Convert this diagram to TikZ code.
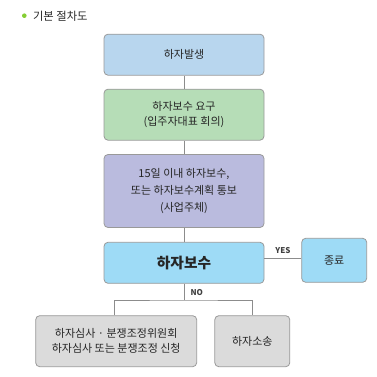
\documentclass[tikz,border=0pt]{standalone}
\usepackage{fontspec}
\setmainfont{Noto Sans CJK KR}
\begin{document}
\begin{tikzpicture}[x=1pt,y=-1pt,
  box/.style={draw=black!40, line width=0.8pt, rounded corners=4pt, inner sep=0pt, align=center, text=black!85, font=\fontsize{11}{15}\selectfont},
  conn/.style={draw=black!45, line width=0.8pt},
  lab/.style={font=\fontsize{8}{9}\selectfont\bfseries, text=black!75}]
\useasboundingbox (0,0) rectangle (376,377);
\fill[green!60!black!60!yellow!80] (24.3,15.7) circle (2.3pt);
\node[anchor=west, font=\fontsize{11.3}{13}\selectfont, text=black!85] (title) at (29.5,16) {기본 절차도};
\node[box, fill={rgb,255:red,184;green,214;blue,238}, minimum width=160pt, minimum height=41pt] (b1) at (184,54.7) {하자발생};
\node[box, fill={rgb,255:red,182;green,221;blue,183}, minimum width=160pt, minimum height=51pt] (b2) at (184,114.7) {하자보수 요구\\(입주자대표 회의)};
\node[box, fill={rgb,255:red,186;green,187;blue,222}, minimum width=160pt, minimum height=73pt, font=\fontsize{11}{17}\selectfont] (b3) at (184,191) {15일 이내 하자보수,\\또는 하자보수계획 통보\\(사업주체)};
\node[box, fill={rgb,255:red,158;green,219;blue,246}, minimum width=160pt, minimum height=41pt, font=\fontsize{14.7}{16}\selectfont\bfseries] (b4) at (184,262.8) {하자보수};
\node[box, fill={rgb,255:red,158;green,219;blue,246}, minimum width=65pt, minimum height=44pt] (end) at (334.2,260.3) {종료};
\node[box, fill=black!14, minimum width=161pt, minimum height=51pt] (b5) at (116.2,341.2) {하자심사 · 분쟁조정위원회\\하자심사 또는 분쟁조정 신청};
\node[box, fill=black!14, minimum width=75pt, minimum height=51pt] (b6) at (252.3,341.2) {하자소송};
\draw[conn] (b1) -- (b2);
\draw[conn] (b2) -- (b3);
\draw[conn] (b3) -- (b4);
\coordinate (yj) at (301.7,258.3);
\draw[conn] (b4.east |- yj) -- (end.west |- yj);
\coordinate (split) at (184,300);
\draw[conn] (b4.south) -- (split);
\draw[conn] (b5.north -| 114.3,0) |- (split) -| (b6.north -| 252.7,0);
\node[lab] (yes) at (283,251) {YES};
\node[lab] (no) at (196.7,292.5) {NO};
\end{tikzpicture}
\end{document}
